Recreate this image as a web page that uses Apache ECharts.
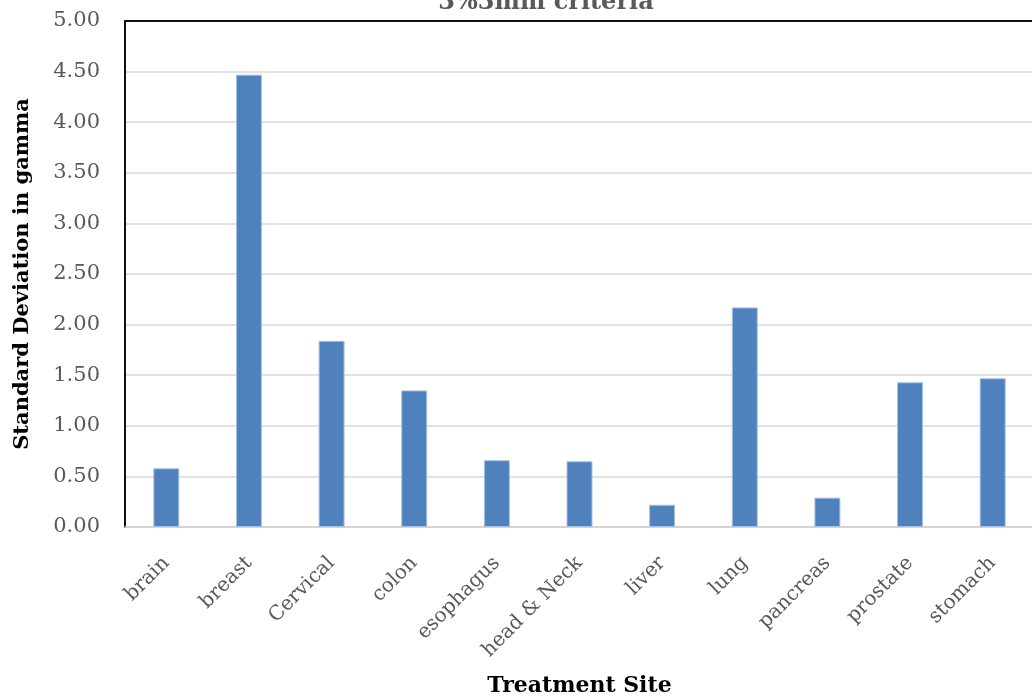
<!DOCTYPE html>
<html>
<head>
<meta charset="utf-8">
<script src="https://cdn.jsdelivr.net/npm/echarts@6/dist/echarts.min.js"></script>
<style>
  html, body { margin: 0; padding: 0; background: #fff; }
  #chart { width: 1032px; height: 698px; }
</style>
</head>
<body>
<div id="chart"></div>
<script>
// Standard deviation of gamma pass rate per treatment site (3%/3mm)
const sites = ['brain', 'breast', 'Cervical', 'colon', 'esophagus', 'head & Neck',
               'liver', 'lung', 'pancreas', 'prostate', 'stomach'];
const stdDev = [0.58, 4.47, 1.84, 1.35, 0.66, 0.65, 0.22, 2.17, 0.29, 1.43, 1.47];
const yTicks = { min: 0, max: 5, interval: 0.5 };

const serif = '"DejaVu Serif", "Liberation Serif", serif';

const chart = echarts.init(document.getElementById('chart'));
chart.setOption({
  animation: false,
  backgroundColor: '#ffffff',
  title: {
    text: '3%3mm criteria',
    left: 541,
    top: -14,
    textAlign: 'center',
    textStyle: { fontFamily: serif, fontSize: 24, fontWeight: 'bold', color: '#595959' }
  },
  grid: {
    left: 125, top: 21, width: 909, height: 506,
    containLabel: false, outerBoundsMode: 'none'
  },
  xAxis: [{
    type: 'category',
    data: sites,
    name: 'Treatment Site',
    nameLocation: 'middle',
    nameGap: 148,
    nameTextStyle: { fontFamily: serif, fontSize: 22, fontWeight: 'bold', color: '#000' },
    axisLine: { show: true, lineStyle: { color: '#d0d0d0', width: 1.5 } },
    axisTick: { show: false },
    axisLabel: {
      rotate: 45, interval: 0, margin: 33,
      fontFamily: serif, fontSize: 20, color: '#595959'
    }
  }, {
    // frame line along the top of the plot
    type: 'category',
    position: 'top',
    data: sites,
    axisLine: { show: true, lineStyle: { color: '#111', width: 2 } },
    axisTick: { show: false },
    axisLabel: { show: false }
  }],
  yAxis: {
    type: 'value',
    min: yTicks.min, max: yTicks.max, interval: yTicks.interval,
    name: 'Standard Deviation in gamma',
    nameLocation: 'middle',
    nameGap: 92,
    nameTextStyle: { fontFamily: serif, fontSize: 21, fontWeight: 'bold', color: '#000' },
    axisLine: { show: true, lineStyle: { color: '#111', width: 2 } },
    axisTick: { show: false },
    axisLabel: {
      margin: 25,
      fontFamily: serif, fontSize: 21, color: '#595959',
      formatter: v => v.toFixed(2)
    },
    splitLine: { show: true, lineStyle: { color: '#d9d9d9', width: 1.5 } }
  },
  series: [{
    type: 'bar',
    data: stdDev,
    barWidth: 26,
    itemStyle: { color: '#4f81bd', borderColor: '#a9c2e2', borderWidth: 1 }
  }]
});
</script>
</body>
</html>
